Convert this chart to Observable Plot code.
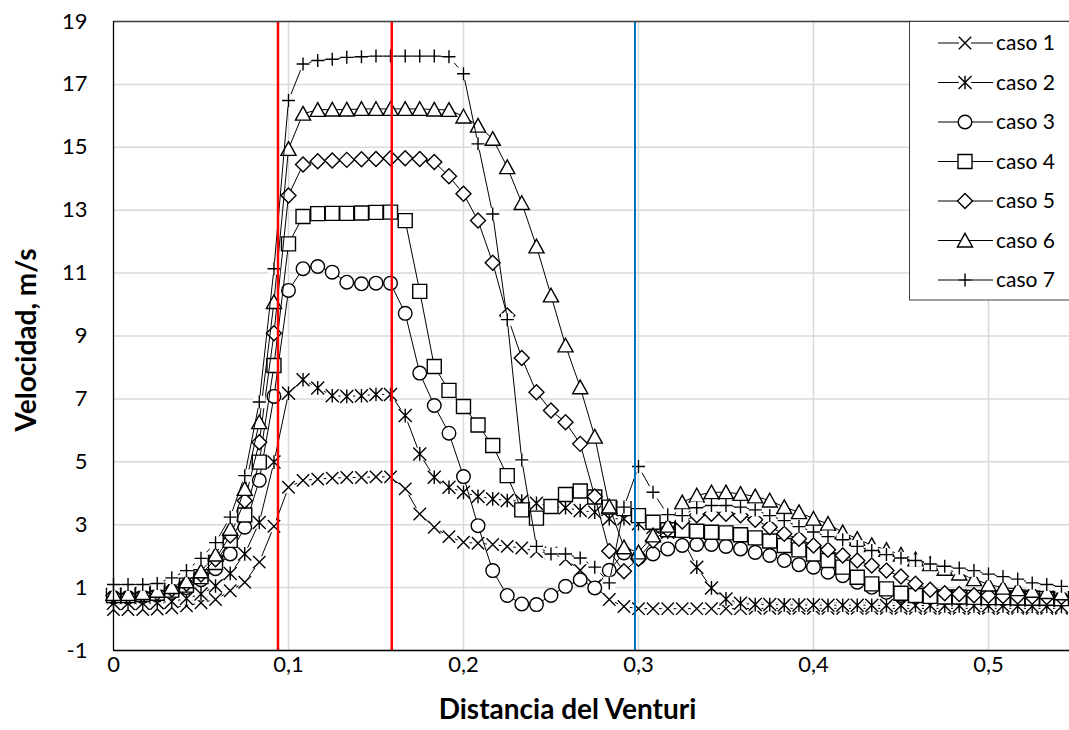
<!DOCTYPE html>
<html><head><meta charset="utf-8">
<script src="https://cdn.jsdelivr.net/npm/d3@7"></script>
<script src="https://cdn.jsdelivr.net/npm/@observablehq/plot@0.6"></script>
<style>
body{margin:0;background:#fff;}
#wrap{position:relative;width:1069px;height:730px;overflow:hidden;font-family:Lato,"Open Sans",sans-serif;color:#000;}
#legend{position:absolute;left:909px;top:21px;}
</style></head><body><div id="wrap"></div>
<script>
// ---- data ----
const distancia = [0,0.0083,0.0167,0.025,0.0333,0.0417,0.05,0.0583,0.0667,0.075,0.0833,0.0917,
0.1,0.1083,0.1167,0.125,0.1333,0.1417,0.15,0.1583,0.1667,0.175,0.1833,0.1917,
0.2,0.2083,0.2167,0.225,0.2333,0.2417,0.25,0.2583,0.2667,0.275,0.2833,0.2917,
0.3,0.3083,0.3167,0.325,0.3333,0.3417,0.35,0.3583,0.3667,0.375,0.3833,0.3917,
0.4,0.4083,0.4167,0.425,0.4333,0.4417,0.45,0.4583,0.4667,0.475,0.4833,0.4917,
0.5,0.5083,0.5167,0.525,0.5333,0.5417];
const caso1 = [0.30,0.30,0.30,0.32,0.36,0.42,0.52,0.62,0.90,1.17, 1.81,2.95,4.19,4.41,4.45,4.48,4.50,4.50,4.52,4.52, 4.14,3.34,2.92,2.62,2.44,2.41,2.37,2.31,2.26,2.15, 2.10,1.90,1.55,1.05,0.62,0.40,0.33,0.33,0.33,0.33, 0.33,0.33,0.33,0.33,0.34,0.34,0.34,0.34,0.34,0.34, 0.34,0.34,0.34,0.34,0.34,0.34,0.34,0.34,0.34,0.34, 0.34,0.34,0.34,0.34,0.34,0.34];
const caso2 = [0.50,0.50,0.50,0.52,0.56,0.65,0.80,1.05,1.45,2.07, 3.07,4.99,7.18,7.61,7.35,7.10,7.08,7.10,7.14,7.14, 6.47,5.25,4.51,4.19,4.03,3.90,3.82,3.77,3.75,3.68, 3.58,3.54,3.45,3.40,3.19,3.19,3.03,2.92,2.76,2.55, 1.65,0.99,0.64,0.50,0.46,0.46,0.45,0.45,0.45,0.44, 0.44,0.44,0.44,0.43,0.43,0.43,0.43,0.42,0.42,0.42, 0.42,0.42,0.41,0.41,0.41,0.40];
const caso3 = [0.70,0.70,0.72,0.76,0.85,1.00,1.25,1.60,2.07,2.92, 4.41,7.08,10.45,11.14,11.21,11.03,10.71,10.66,10.68,10.68, 9.72,7.82,6.79,5.91,4.53,2.97,1.54,0.75,0.48,0.46, 0.75,1.04,1.25,0.99,1.55,2.10,1.95,2.07,2.23,2.34, 2.37,2.37,2.31,2.23,2.12,2.02,1.86,1.73,1.65,1.49, 1.38,1.17,1.01,0.85,0.75,0.72,0.70,0.68,0.68,0.67, 0.66,0.65,0.65,0.64,0.63,0.63];
const caso4 = [0.75,0.75,0.78,0.82,0.92,1.08,1.35,1.80,2.50,3.31, 4.99,8.06,11.93,12.80,12.89,12.90,12.90,12.91,12.93,12.94, 12.67,10.42,8.03,7.27,6.76,6.17,5.52,4.56,3.47,3.21, 3.58,3.96,4.07,3.88,3.56,3.51,3.29,3.08,2.84,2.82, 2.79,2.76,2.74,2.68,2.58,2.48,2.34,2.20,2.07,1.86, 1.65,1.33,1.12,0.96,0.82,0.75,0.72,0.70,0.70,0.69, 0.68,0.68,0.67,0.66,0.66,0.65];
const caso5 = [0.75,0.75,0.78,0.84,0.95,1.12,1.42,1.90,2.66,3.76, 5.62,9.09,13.47,14.45,14.56,14.58,14.60,14.62,14.63,14.65, 14.65,14.63,14.53,14.08,13.52,12.67,11.33,9.65,8.30,7.21, 6.63,6.26,5.57,3.90,2.16,1.52,1.92,2.50,2.85,3.10, 3.30,3.35,3.35,3.30,3.16,2.92,2.71,2.55,2.34,2.20, 2.02,1.86,1.70,1.54,1.35,1.12,0.93,0.82,0.80,0.76, 0.74,0.73,0.72,0.71,0.70,0.70];
const caso6 = [0.80,0.80,0.83,0.90,1.02,1.20,1.52,2.05,2.87,4.14, 6.26,10.08,14.95,16.07,16.19,16.20,16.20,16.22,16.22,16.22, 16.22,16.22,16.20,16.19,15.98,15.69,15.27,14.37,13.23,11.85, 10.29,8.70,7.37,5.80,3.58,2.28,2.12,2.66,2.97,3.71, 3.93,4.03,4.03,3.98,3.90,3.77,3.56,3.40,3.19,3.03, 2.76,2.55,2.35,2.20,2.05,1.90,1.75,1.60,1.45,1.27, 1.10,1.00,0.95,0.90,0.86,0.82];
const caso7 = [1.10,1.10,1.10,1.13,1.31,1.54,1.93,2.43,3.24,4.56, 6.90,11.14,16.49,17.65,17.76,17.80,17.86,17.88,17.90,17.90, 17.90,17.90,17.90,17.88,17.34,15.11,12.88,9.52,5.06,2.31, 2.07,2.07,1.94,1.65,1.15,3.56,4.85,4.03,3.32,3.29, 3.54,3.61,3.61,3.56,3.47,3.29,3.13,2.94,2.77,2.62, 2.52,2.31,2.18,2.05,1.94,1.86,1.75,1.68,1.62,1.54, 1.43,1.35,1.27,1.15,1.10,1.04];
const series = ["caso 1","caso 2","caso 3","caso 4","caso 5","caso 6","caso 7"];
const casos = [caso1,caso2,caso3,caso4,caso5,caso6,caso7];
const lineasRojas = [0.094, 0.159];
const lineaAzul = [0.298];
const yTicks = [-1,1,3,5,7,9,11,13,15,17,19];
const xTicks = [0,0.1,0.2,0.3,0.4,0.5];
const xTickLabels = ["0","0,1","0,2","0,3","0,4","0,5"];
const tituloX = "Distancia del Venturi";
const tituloY = "Velocidad, m/s";

// ---- marker shapes (Excel-like) ----
const rad = s => Math.sqrt(s / Math.PI);
const sym = {
  times: {draw(c,s){const r=rad(s); c.moveTo(-r,-r); c.lineTo(r,r); c.moveTo(-r,r); c.lineTo(r,-r);}},
  star: {draw(c,s){const r=rad(s); c.moveTo(-r,-r); c.lineTo(r,r); c.moveTo(-r,r); c.lineTo(r,-r); c.moveTo(0,-r*1.05); c.lineTo(0,r*1.05);}},
  circle: {draw(c,s){const r=rad(s); c.moveTo(r,0); c.arc(0,0,r,0,2*Math.PI); c.closePath();}},
  square: {draw(c,s){const r=rad(s); c.rect(-r,-r,2*r,2*r);}},
  diamond: {draw(c,s){const r=rad(s); c.moveTo(0,-r); c.lineTo(r,0); c.lineTo(0,r); c.lineTo(-r,0); c.closePath();}},
  triangle: {draw(c,s){const r=rad(s); c.moveTo(0,-r); c.lineTo(r*1.05,r*0.9); c.lineTo(-r*1.05,r*0.9); c.closePath();}},
  plus: {draw(c,s){const r=rad(s); c.moveTo(-r,0); c.lineTo(r,0); c.moveTo(0,-r); c.lineTo(0,r);}}
};
const shapes = ["times","star","circle","square","diamond","triangle","plus"];
const sizes = [6.2,6.5,6.8,7,7.5,7.2,6.5];
const open = [true,true,false,false,false,false,true];

const table = series.map((s,k) => distancia.map((d,i) => ({serie:s, d, v:casos[k][i]})));

const marks = [
  Plot.ruleY(yTicks, {stroke:"#d9d9d9", strokeWidth:1.5}),
  Plot.ruleX(xTicks.slice(1), {stroke:"#d9d9d9", strokeWidth:1.5}),
];
table.forEach((rows,k) => {
  marks.push(Plot.line(rows, {x:"d", y:"v", stroke:"#000", strokeWidth:1}));
  if (open[k]) marks.push(Plot.dot(rows, {x:"d", y:"v", symbol:sym.square, r:sizes[k]*0.95, fill:"#fff", stroke:"none"}));
  marks.push(Plot.dot(rows, {x:"d", y:"v", symbol:sym[shapes[k]], r:sizes[k], fill: open[k] ? "none" : "#fff", stroke:"#000", strokeWidth:1.4}));
});
marks.push(
  Plot.ruleX(lineasRojas, {stroke:"#ff0000", strokeWidth:2.5}),
  Plot.ruleX(lineaAzul, {stroke:"#0070c0", strokeWidth:2}),
  Plot.ruleY([-1], {stroke:"#000", strokeWidth:1.5}),
  Plot.ruleY([19], {stroke:"#404040", strokeWidth:1.3}),
  Plot.ruleX([0], {stroke:"#000", strokeWidth:1.3}),
  Plot.text([tituloX], {frameAnchor:"bottom", textAnchor:"middle", dx:-24, dy:68, fontWeight:"bold", fontSize:28, fill:"#000"}),
  Plot.text([tituloY], {frameAnchor:"left", textAnchor:"middle", dx:-86, dy:4, rotate:-90, fontWeight:"bold", fontSize:28, fill:"#000"})
);

const chart = Plot.plot({
  width:1069, height:730,
  marginLeft:113, marginRight:0, marginTop:21, marginBottom:80,
  style:{fontFamily:'Lato,"Open Sans",sans-serif', fontSize:"22px", color:"#000", background:"#fff"},
  x:{domain:[0,0.5463], ticks:xTicks, tickFormat:d=>xTickLabels[xTicks.indexOf(d)], tickSize:0, tickPadding:6, label:null},
  y:{domain:[-1,19], ticks:yTicks, tickFormat:d=>String(d), tickSize:0, tickPadding:26, label:null},
  marks
});
const wrap = document.getElementById("wrap");
wrap.appendChild(chart);

// ---- legend ----
const lg = d3.select(wrap).append("svg").attr("id","legend").attr("width",170).attr("height",280);
lg.append("rect").attr("x",0.5).attr("y",0.5).attr("width",200).attr("height",278.5).attr("fill","#fff").attr("stroke","#404040").attr("stroke-width",1);
series.forEach((s,k) => {
  const cy = 22 + 39.5*k;
  const g = lg.append("g");
  g.append("line").attr("x1",29).attr("x2",84).attr("y1",cy).attr("y2",cy).attr("stroke","#000").attr("stroke-width",1);
  const p = d3.path(); sym[shapes[k]].draw(p, Math.PI*sizes[k]*sizes[k]);
  if (open[k]) { const q = d3.path(); sym.square.draw(q, Math.PI*(sizes[k]*0.95)**2);
    g.append("path").attr("d",q.toString()).attr("transform",`translate(56,${cy})`).attr("fill","#fff"); }
  g.append("path").attr("d",p.toString()).attr("transform",`translate(56,${cy})`)
    .attr("fill", open[k] ? "none" : "#fff").attr("stroke","#000").attr("stroke-width",1.4);
  g.append("text").attr("x",87).attr("y",cy).attr("dy","0.35em").attr("font-size",21).attr("fill","#000").text(s);
});
</script></body></html>
